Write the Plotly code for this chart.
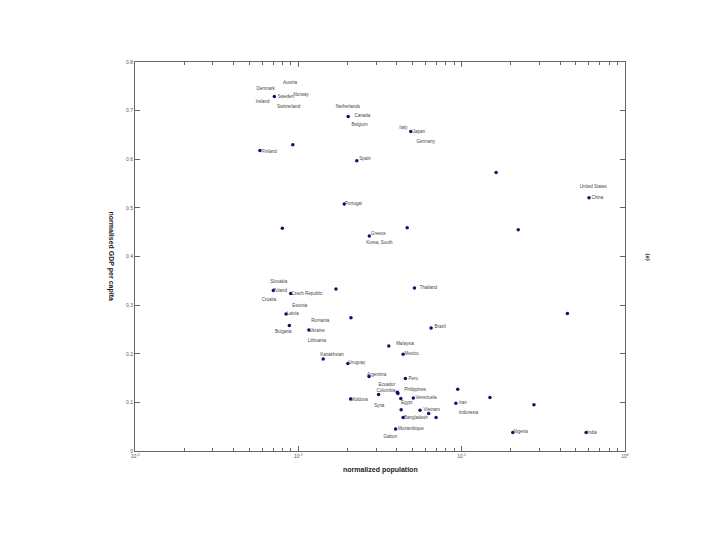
import plotly.graph_objects as go

# Dots (normalized population, normalized GDP per capita)
dot_pop = [0.00713, 0.00582, 0.00925, 0.0202, 0.0228, 0.0488, 0.1626, 0.602,
           0.0191, 0.00798, 0.0272, 0.0464, 0.222, 0.0514, 0.444, 0.00703,
           0.00898, 0.0170, 0.00841, 0.0210, 0.00881, 0.0116, 0.065, 0.0358,
           0.0438, 0.0142, 0.0201, 0.0271, 0.0452, 0.0310, 0.0404, 0.0407,
           0.0424, 0.0506, 0.0209, 0.0426, 0.0556, 0.0628, 0.0697, 0.0438,
           0.0921, 0.0946, 0.149, 0.277, 0.0394, 0.2056, 0.578]
dot_gdp = [0.729, 0.618, 0.630, 0.688, 0.597, 0.657, 0.573, 0.521,
           0.508, 0.458, 0.442, 0.459, 0.455, 0.335, 0.283, 0.330,
           0.324, 0.333, 0.282, 0.274, 0.258, 0.249, 0.253, 0.216,
           0.199, 0.189, 0.180, 0.153, 0.149, 0.116, 0.121, 0.118,
           0.108, 0.109, 0.107, 0.085, 0.084, 0.077, 0.069, 0.069,
           0.098, 0.127, 0.110, 0.095, 0.045, 0.038, 0.038]

# Country labels and where they sit (data units)
label_names = ["Denmark", "Austria", "Norway", "Sweden", "Ireland", "Switzerland",
               "Finland", "Netherlands", "Canada", "Belgium", "Spain", "Italy",
               "Japan", "Germany", "United States", "China", "Portugal", "Greece",
               "Korea, South", "Thailand", "Slovakia", "Poland", "Czech Republic",
               "Croatia", "Estonia", "Latvia", "Romania", "Bulgaria", "Ukraine",
               "Lithuania", "Brazil", "Malaysia", "Mexico", "Kazakhstan", "Uruguay",
               "Argentina", "Peru", "Ecuador", "Colombia", "Philippines", "Venezuela",
               "Moldova", "Egypt", "Syria", "Vietnam", "Bangladesh", "Iran",
               "Indonesia", "Mozambique", "Gabon", "Nigeria", "India"]
label_pop = [0.00631, 0.00889, 0.0104, 0.00838, 0.00605, 0.00873,
             0.00664, 0.0201, 0.0247, 0.0237, 0.0256, 0.0440,
             0.0548, 0.0603, 0.640, 0.678, 0.0217, 0.0309,
             0.0313, 0.0625, 0.00759, 0.00773, 0.01125,
             0.00662, 0.0102, 0.00925, 0.0136, 0.00809, 0.0130,
             0.0130, 0.0738, 0.0450, 0.0494, 0.0161, 0.0228,
             0.0302, 0.0506, 0.0348, 0.0344, 0.0519, 0.0605,
             0.0236, 0.0461, 0.0313, 0.0656, 0.0524, 0.1016,
             0.110, 0.0488, 0.0365, 0.230, 0.627]
label_gdp = [0.745, 0.757, 0.733, 0.728, 0.717, 0.708,
             0.615, 0.707, 0.689, 0.671, 0.600, 0.664,
             0.656, 0.635, 0.544, 0.521, 0.509, 0.446,
             0.427, 0.336, 0.347, 0.329, 0.324,
             0.311, 0.298, 0.281, 0.268, 0.245, 0.248,
             0.227, 0.255, 0.220, 0.199, 0.198, 0.182,
             0.156, 0.148, 0.136, 0.123, 0.125, 0.109,
             0.106, 0.100, 0.093, 0.084, 0.068, 0.100,
             0.079, 0.045, 0.029, 0.040, 0.038]

x_tickvals = [0.001, 0.01, 0.1, 1]
x_ticktext = ["10<sup>-3</sup>", "10<sup>-2</sup>", "10<sup>-1</sup>", "10<sup>0</sup>"]
y_tickvals = [0, 0.1, 0.2, 0.3, 0.4, 0.5, 0.6, 0.7, 0.8]
y_ticktext = ["0", "0.1", "0.2", "0.3", "0.4", "0.5", "0.6", "0.7", "0.8"]

FONT = "Liberation Sans, Arial, sans-serif"

fig = go.Figure()
fig.add_trace(go.Scatter(
    x=dot_pop, y=dot_gdp, mode="markers",
    marker=dict(color="#10106e", size=3.5, line=dict(width=0)),
    hoverinfo="skip", showlegend=False))
fig.add_trace(go.Scatter(
    x=label_pop, y=label_gdp, mode="text", text=label_names,
    textfont=dict(family=FONT, size=4.5, color="#444444"),
    textposition="middle center", hoverinfo="skip", showlegend=False))

axis_common = dict(
    showline=True, linecolor="#666666", linewidth=1, mirror="ticks",
    ticks="inside", ticklen=5, tickcolor="#666666", showgrid=False, zeroline=False,
    tickfont=dict(family=FONT, size=5, color="#555555"))

fig.update_xaxes(type="log", range=[-3, 0], tickvals=x_tickvals, ticktext=x_ticktext,
                 minor=dict(ticks="inside", ticklen=3, tickcolor="#666666", dtick="D1", showgrid=False),
                 **axis_common)
fig.update_yaxes(range=[0, 0.8], tickvals=y_tickvals, ticktext=y_ticktext, **axis_common)

fig.add_annotation(text="<b>normalized population</b>", xref="paper", yref="paper",
                   x=0.5, y=-0.049, yanchor="middle", showarrow=False,
                   font=dict(family=FONT, size=7, color="#222222"))
fig.add_annotation(text="<b>normalised GDP per capita</b>", xref="paper", yref="paper",
                   x=-0.047, y=0.5, xanchor="center", textangle=90, showarrow=False,
                   font=dict(family=FONT, size=7, color="#222222"))
fig.add_annotation(text="<b>(e)</b>", xref="paper", yref="paper",
                   x=1.047, y=0.5, xanchor="center", textangle=90, showarrow=False,
                   font=dict(family=FONT, size=6, color="#222222"))

fig.update_layout(
    width=720, height=540,
    margin=dict(l=127, r=103, t=54, b=97),
    paper_bgcolor="white", plot_bgcolor="white",
)

fig.write_html("out.html")
